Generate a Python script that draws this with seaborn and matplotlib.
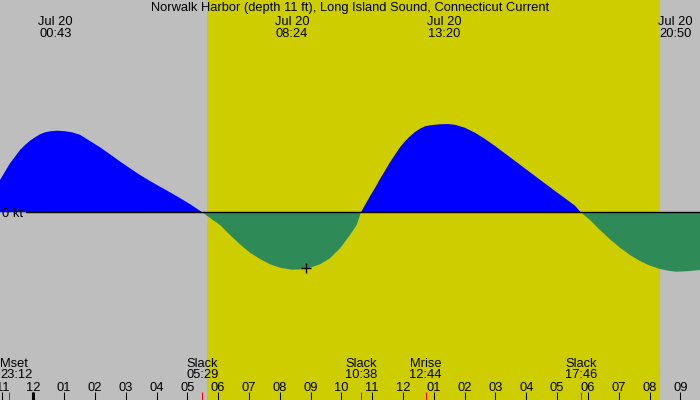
import matplotlib
matplotlib.use("Agg")
import matplotlib.pyplot as plt
import matplotlib.transforms as mtransforms
import seaborn as sns
import pandas as pd
import numpy as np

sns.set_theme(style="white")
plt.rcParams["font.family"] = ["Liberation Sans", "DejaVu Sans"]

title = "Norwalk Harbor (depth 11 ft), Long Island Sound, Connecticut Current"

# hours since midnight Jul 20, current speed in knots (flood +, ebb -)
time_h = [
    -1.081, -0.919, -0.756, -0.594, -0.432, -0.269, -0.107, 0.055, 0.217, 0.380,
    0.542, 0.769, 1.029, 1.256, 1.516, 1.840,
    2.165, 2.490, 2.814, 3.139, 3.463, 3.788, 4.112, 4.437, 4.761, 5.086, 5.483,
    6.060, 6.385, 6.709, 7.034, 7.358, 7.683, 8.007, 8.387, 8.711, 8.981,
    9.306, 9.630, 9.955, 10.279, 10.497, 10.633,
    10.928, 11.091, 11.253, 11.416, 11.578, 11.740, 11.902, 12.065, 12.227, 12.389,
    12.552, 12.714, 12.876, 13.201, 13.461, 13.687, 14.012,
    14.337, 14.661, 14.986, 15.310, 15.635, 15.959, 16.284, 16.608, 16.933, 17.257,
    17.582, 17.767,
    18.069, 18.394, 18.718, 19.043, 19.367, 19.692, 20.016, 20.341, 20.665, 20.883,
    21.208, 21.639,
]
speed_kt = [
    0.323, 0.406, 0.490, 0.556, 0.623, 0.673, 0.716, 0.750, 0.780, 0.800,
    0.810, 0.816, 0.811, 0.800, 0.775, 0.713,
    0.650, 0.580, 0.508, 0.440, 0.373, 0.313, 0.256, 0.200, 0.142, 0.082, 0.0,
    -0.127, -0.227, -0.320, -0.404, -0.467, -0.520, -0.554, -0.574, -0.570, -0.554,
    -0.520, -0.460, -0.360, -0.227, -0.127, 0.0,
    0.160, 0.243, 0.333, 0.416, 0.500, 0.576, 0.650, 0.710, 0.760, 0.803,
    0.836, 0.860, 0.870, 0.880, 0.883, 0.875, 0.845,
    0.795, 0.733, 0.663, 0.588, 0.513, 0.438, 0.363, 0.288, 0.213, 0.140,
    0.066, 0.0,
    -0.077, -0.177, -0.270, -0.354, -0.427, -0.487, -0.534, -0.567, -0.587, -0.594,
    -0.590, -0.577,
]

peak_times = [0.717, 8.4, 13.333, 20.833]
peak_labels = ["Jul 20\n00:43", "Jul 20\n08:24", "Jul 20\n13:20", "Jul 20\n20:50"]

event_times = [-0.8, 5.483, 10.633, 12.733, 17.767]
event_labels = ["Mset\n23:12", "Slack\n05:29", "Slack\n10:38", "Mrise\n12:44", "Slack\n17:46"]

hour_ticks = list(range(-1, 22))
hour_labels = ["11", "12", "01", "02", "03", "04", "05", "06", "07", "08", "09", "10",
               "11", "12", "01", "02", "03", "04", "05", "06", "07", "08", "09"]

sunrise_h, sunset_h = 5.628, 20.34
marker_t, marker_v = 8.851, -0.557
zero_start = -0.237
x_min, x_max = -1.081, 21.639
y_min, y_max = -1.877, 2.123

W, H = 700, 400
fig = plt.figure(figsize=(7, 4), dpi=100)
ax = fig.add_axes([0, 0, 1, 1])
ax.set_facecolor("#bebebe")
for s in ax.spines.values():
    s.set_visible(False)
ax.set_xticks([])
ax.set_yticks([])
ax.set_xlim(x_min, x_max)
ax.set_ylim(y_min, y_max)

ax.axvspan(sunrise_h, sunset_h, color="#cdcd00", lw=0, zorder=0)

df = pd.DataFrame({"t": time_h, "v": speed_kt})
t = df["t"].to_numpy()
v = df["v"].to_numpy()
ax.fill_between(t, v, 0, where=v >= 0, color="#0000ff", lw=0, interpolate=True, zorder=1)
ax.fill_between(t, v, 0, where=v <= 0, color="#2e8b57", lw=0, interpolate=True, zorder=1)

zero_df = pd.DataFrame({"t": [zero_start, x_max], "v": [0.0, 0.0]})
sns.lineplot(data=zero_df, x="t", y="v", color="black", lw=1.0, ax=ax, zorder=2)
ax.set_xlabel("")
ax.set_ylabel("")

ax.plot([marker_t], [marker_v], marker="+", color="black", ms=7.5, mew=1.0, zorder=3)

trans = mtransforms.blended_transform_factory(ax.transData, ax.transAxes)
fs = 9.25

def yf(py):
    return 1 - py / H

ax.text(0.5, yf(8.5), title, transform=ax.transAxes, ha="center", va="center", fontsize=fs, color="black")
for tt, lab in zip(peak_times, peak_labels):
    ax.text(tt, yf(28), lab, transform=trans, ha="center", va="center", fontsize=fs,
            color="black", linespacing=0.98)

for i, (tt, lab) in enumerate(zip(event_times, event_labels)):
    if i == 0:
        ax.text(0.0, yf(369.5), lab, transform=ax.transAxes, ha="left", va="center",
                fontsize=fs, color="black", linespacing=0.98)
    else:
        ax.text(tt, yf(369.5), lab, transform=trans, ha="center", va="center",
                fontsize=fs, color="black", linespacing=0.98)

ax.text(2 / W, yf(214), "0 kt", transform=ax.transAxes, ha="left", va="center",
        fontsize=fs, color="black", zorder=4)

for hv, lab in zip(hour_ticks, hour_labels):
    ax.text(hv, yf(388), lab, transform=trans, ha="center", va="center", fontsize=fs, color="black")

ax.vlines(hour_ticks, 0, 8.5 / H, transform=trans, color="black", lw=0.75, zorder=3)
ax.vlines([0], 0, 8.5 / H, transform=trans, color="black", lw=2.2, zorder=3)
ax.vlines(event_times, 0, 8.5 / H, transform=trans, color="red", lw=0.75, zorder=3)

fig.savefig("out.png", dpi=100, facecolor="#bebebe")
